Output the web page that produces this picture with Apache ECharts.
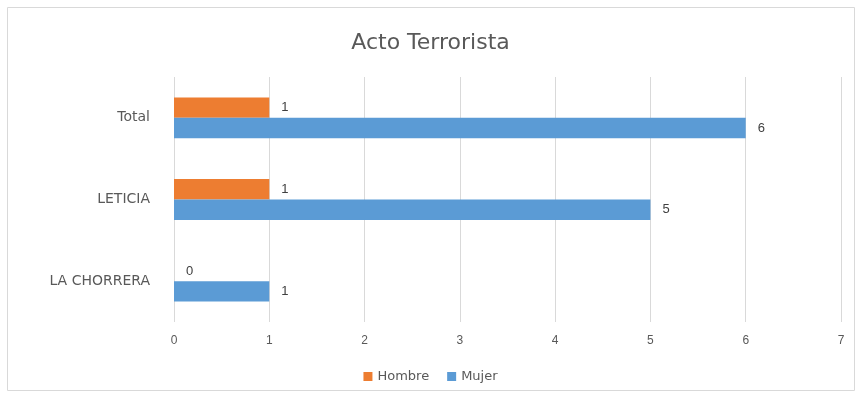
<!DOCTYPE html>
<html><head><meta charset="utf-8">
<script src="https://cdn.jsdelivr.net/npm/echarts@6/dist/echarts.min.js"></script>
<style>html,body{margin:0;padding:0;background:#fff}#c{width:861px;height:399px}</style>
</head><body><div id="c"></div>
<script>
const categories = ['LA CHORRERA', 'LETICIA', 'Total'];
const hombre = [0, 1, 1];
const mujer = [1, 5, 6];
const xTicks = [0, 1, 2, 3, 4, 5, 6, 7];

const chart = echarts.init(document.getElementById('c'));
const font = 'Liberation Sans, Arial, sans-serif';
const wide = 'DejaVu Sans, sans-serif';
chart.setOption({
  animation: false,
  title: { text: 'Acto Terrorista', left: 'center', top: 27, textStyle: { fontFamily: wide, fontSize: 22, fontWeight: 'normal', color: '#595959' } },
  graphic: [{ type: 'rect', shape: { x: 7.5, y: 7.5, width: 847, height: 383 }, style: { fill: 'none', stroke: '#d9d9d9', lineWidth: 1 } }],
  legend: { data: ['Hombre', 'Mujer'], bottom: 11, left: 'center', itemWidth: 9, itemHeight: 9, itemGap: 18, itemTextGap: 3, icon: 'rect',
    textStyle: { fontFamily: wide, fontSize: 13, color: '#595959' } },
  grid: { left: 174, right: 20, top: 77, bottom: 77 },
  xAxis: { type: 'value', min: xTicks[0], max: xTicks[xTicks.length - 1], interval: 1,
    axisLine: { show: false }, axisTick: { show: false },
    axisLabel: { fontFamily: font, fontSize: 12, color: '#595959', margin: 13 },
    splitLine: { lineStyle: { color: '#d9d9d9', width: 1 } } },
  yAxis: { type: 'category', data: categories,
    axisLine: { show: false }, axisTick: { show: false },
    axisLabel: { fontFamily: wide, fontSize: 14, color: '#595959', margin: 24 } },
  series: [
    { name: 'Hombre', type: 'bar', data: hombre, itemStyle: { color: '#ED7D31' }, barGap: '0%', barCategoryGap: '50%',
      label: { show: true, position: 'right', distance: 12, fontFamily: font, fontSize: 13, color: '#404040' } },
    { name: 'Mujer', type: 'bar', data: mujer, itemStyle: { color: '#5B9BD5' }, barGap: '0%', barCategoryGap: '50%',
      label: { show: true, position: 'right', distance: 12, fontFamily: font, fontSize: 13, color: '#404040' } }
  ]
});
</script></body></html>
